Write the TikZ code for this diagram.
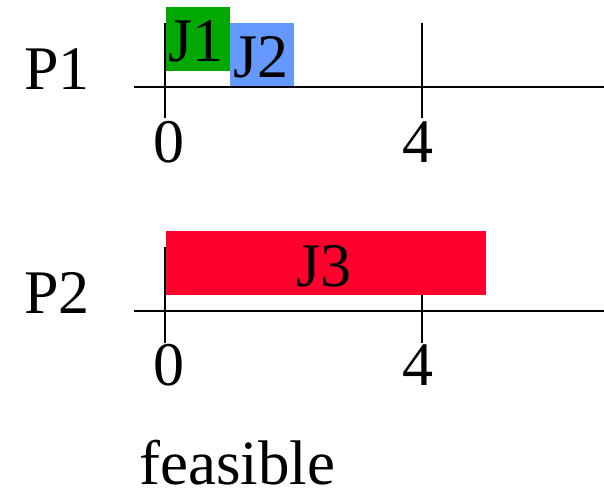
\documentclass[tikz,border=0pt]{standalone}
\usepackage{fontspec}
\setmainfont{Liberation Serif}
\usetikzlibrary{positioning}

\definecolor{jobgreen}{RGB}{0,168,0}
\definecolor{jobblue}{RGB}{102,153,255}
\definecolor{jobred}{RGB}{255,0,45}

\begin{document}
\begin{tikzpicture}[
    x=1pt,
    y=-1pt,
    axis/.style={line width=2pt,black},
    jobtext/.style={inner sep=0pt,anchor=base,font=\fontsize{62}{62}\selectfont},
    ticklbl/.style={inner sep=0pt,anchor=base,font=\fontsize{62}{62}\selectfont},
    proc/.style={inner sep=0pt,anchor=base west,font=\fontsize{62}{62}\selectfont}
]
\useasboundingbox (0,0) rectangle (604,492);

% processor P1
\node[proc] (p1) at (24,89) {P1};
\fill[jobgreen] (166,7) rectangle (230,71);
\fill[jobblue] (230,23) rectangle (294,87);
\draw[axis] (134,87) -- (604,87);
\draw[axis] (165,23) -- (165,118);
\draw[axis] (422,23) -- (422,118);
\node[jobtext] (j1) at (196,62) {J1};
\node[jobtext] (j2) at (261,78) {J2};
\node[ticklbl] (t1a) at (169,162) {0};
\node[ticklbl] (t1b) at (418,162) {4};

% processor P2
\node[proc] (p2) at (24,313) {P2};
\draw[axis] (134,311) -- (604,311);
\draw[axis] (165,247) -- (165,343);
\draw[axis] (422,247) -- (422,343);
\fill[jobred] (166,231) rectangle (486,295);
\node[jobtext] (j3) at (324,286) {J3};
\node[ticklbl] (t2a) at (169,385) {0};
\node[ticklbl] (t2b) at (418,385) {4};

\node[inner sep=0pt,anchor=base west,font=\fontsize{63}{63}\selectfont] (feas) at (139,484) {feasible};
\end{tikzpicture}
\end{document}
